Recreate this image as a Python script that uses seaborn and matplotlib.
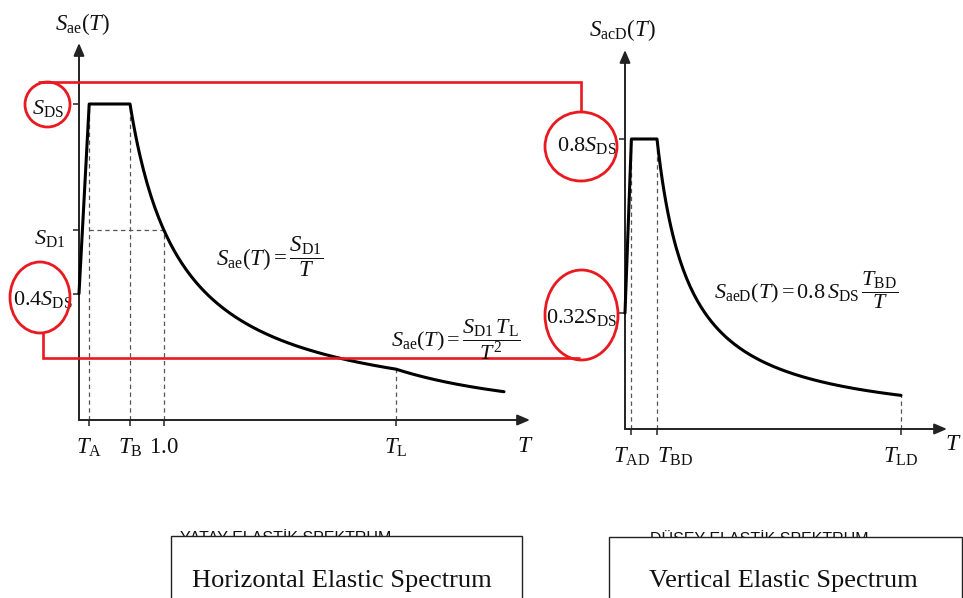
import numpy as np
import pandas as pd
import matplotlib
matplotlib.use("Agg")
import matplotlib.pyplot as plt
from matplotlib.patches import Ellipse, Rectangle
import seaborn as sns

sns.set_theme(style="white")
plt.rcParams["font.family"] = ["Liberation Serif", "DejaVu Serif"]
plt.rcParams["mathtext.fontset"] = "custom"
plt.rcParams["mathtext.rm"] = "Liberation Serif"
plt.rcParams["mathtext.it"] = "Liberation Serif:italic"
plt.rcParams["mathtext.bf"] = "Liberation Serif:bold"

# ---- horizontal elastic spectrum (S_DS normalised to 1) ----
S_DS = 1.0
S_D1 = 0.6
T_A, T_B, T_ONE, T_L, T_H_END = 0.12, 0.6, 1.0, 3.73, 5.0
h_xticks = [T_A, T_B, T_ONE, T_L]
h_xticklabels = [r"$T_{\mathrm{A}}$", r"$T_{\mathrm{B}}$", r"$1.0$", r"$T_{\mathrm{L}}$"]
h_levels = [S_DS, S_D1, 0.4 * S_DS]
h_level_labels = [r"$S_{\mathrm{DS}}$", r"$S_{\mathrm{D1}}$", r"$0.4S_{\mathrm{DS}}$"]

# ---- vertical elastic spectrum ----
T_AD, T_BD, T_LD = 0.04, 0.2, 1.725
v_xticks = [T_AD, T_BD, T_LD]
v_xticklabels = [r"$T_{\mathrm{AD}}$", r"$T_{\mathrm{BD}}$", r"$T_{\mathrm{LD}}$"]
v_levels = [0.8 * S_DS, 0.32 * S_DS]
v_level_labels = [r"$0.8S_{\mathrm{DS}}$", r"$0.32S_{\mathrm{DS}}$"]


def horizontal_sa(T):
    T = np.asarray(T, dtype=float)
    with np.errstate(divide="ignore", invalid="ignore"):
        return np.where(T < T_A, (0.4 + 0.6 * T / T_A) * S_DS,
               np.where(T <= T_B, S_DS,
               np.where(T <= T_L, S_D1 / T, S_D1 * T_L / T ** 2)))


def vertical_sa(T):
    T = np.asarray(T, dtype=float)
    with np.errstate(divide="ignore", invalid="ignore"):
        return np.where(T < T_AD, (0.32 + 0.48 * T / T_AD) * S_DS,
               np.where(T <= T_BD, 0.8 * S_DS, 0.8 * S_DS * T_BD / T))


t_h = np.concatenate([[0.0, T_A], np.linspace(T_B, T_L, 140), np.linspace(T_L, T_H_END, 40)[1:]])
t_v = np.concatenate([[0.0, T_AD], np.linspace(T_BD, T_LD, 140)])
df_h = pd.DataFrame({"T": t_h, "Sa": horizontal_sa(t_h)})
df_v = pd.DataFrame({"T": t_v, "Sa": vertical_sa(t_v)})

W, H = 963, 598
fig = plt.figure(figsize=(W / 100, H / 100), dpi=100)
fig.patch.set_facecolor("white")

AX_COL = "#222222"
DASH_COL = "#555555"
RED = "#e8191f"


def px_axes(x0, y_axis, x1, y1):
    """Axes whose data origin sits at pixel (x0, y_axis)."""
    return fig.add_axes([x0 / W, (H - y_axis) / H, (x1 - x0) / W, (y_axis - y1) / H])


ax_h = px_axes(79, 420, 530, 43)
ax_h.set_xlim(0, (530 - 79) / 85.0)
ax_h.set_ylim(0, (420 - 43) / 316.0)

ax_v = px_axes(625, 429, 947, 50)
ax_v.set_xlim(0, (947 - 625) / 160.0)
ax_v.set_ylim(0, (429 - 50) / 362.5)

for ax in (ax_h, ax_v):
    ax.patch.set_alpha(0)
    for s in ax.spines.values():
        s.set_visible(False)
    for xy in [(1, 0), (0, 1)]:
        ax.annotate("", xy=xy, xytext=(0, 0), xycoords="axes fraction",
                    arrowprops=dict(arrowstyle="-|>,head_length=0.75,head_width=0.32",
                                    mutation_scale=10, lw=1.4, color=AX_COL,
                                    shrinkA=0, shrinkB=0),
                    annotation_clip=False)
    ax.tick_params(axis="both", direction="out", length=4.3, width=1.1, color=AX_COL,
                   bottom=True, left=True, labelsize=16.5, pad=8, labelcolor="#111111")

# spectrum curves
sns.lineplot(data=df_h, x="T", y="Sa", ax=ax_h, color="black", linewidth=2.2,
             estimator=None, sort=False, clip_on=False, zorder=3)
sns.lineplot(data=df_v, x="T", y="Sa", ax=ax_v, color="black", linewidth=2.2,
             estimator=None, sort=False, clip_on=False, zorder=3)
for ax in (ax_h, ax_v):
    ax.set_xlabel("")
    ax.set_ylabel("")

# dashed guide lines
dash = dict(colors=DASH_COL, linestyles=(0, (3.5, 2.8)), linewidth=0.9, zorder=2)
ax_h.vlines(h_xticks, 0, horizontal_sa(h_xticks), **dash)
ax_h.hlines(S_D1, T_A, T_ONE, **dash)
ax_v.vlines(v_xticks, 0, vertical_sa(v_xticks), **dash)

# period ticks
ax_h.set_xticks(h_xticks)
ax_h.set_xticklabels(h_xticklabels)
ax_v.set_xticks(v_xticks)
ax_v.set_xticklabels(v_xticklabels)
ax_v.get_xticklabels()[0].set_horizontalalignment("center")
ax_v.get_xticklabels()[1].set_horizontalalignment("left")

# ordinate ticks, labels centred in the marking circles
ax_h.set_yticks(h_levels)
ax_h.set_yticklabels([])
ax_v.set_yticks(v_levels)
ax_v.set_yticklabels([])
h_label_offsets = [(-31.5, -4.5), (-29.5, -8.0), (-36.0, -6.0)]
v_label_offsets = [(-38.5, -6.0), (-43.5, -5.0)]
for ax, levels, labels, offs in [(ax_h, h_levels, h_level_labels, h_label_offsets),
                                 (ax_v, v_levels, v_level_labels, v_label_offsets)]:
    for lev, lab, (dx, dy) in zip(levels, labels, offs):
        ax.annotate(lab, xy=(0, lev), xycoords=("axes fraction", "data"),
                    xytext=(dx * 0.72, dy * 0.72), textcoords="offset points",
                    ha="center", va="center", fontsize=16, color="#111111",
                    annotation_clip=False)

# overlay in pixel coordinates for titles, formulas and red markings
ov = fig.add_axes([0, 0, 1, 1], zorder=10)
ov.set_xlim(0, W)
ov.set_ylim(H, 0)
ov.axis("off")
ov.patch.set_alpha(0)

txt = dict(color="#111111", ha="center", va="center")
ov.text(83, 24, r"$S_{\mathrm{ae}}(T)$", fontsize=16.5, **txt)
ov.text(622, 30, r"$S_{\mathrm{acD}}(T)$", fontsize=16.5, **txt)
ov.text(525, 447, r"$T$", fontsize=17, **txt)
ov.text(962, 444, r"$T$", fontsize=17, color="#111111", ha="right", va="center")

ov.text(270, 257, r"$S_{\mathrm{ae}}(T)=\dfrac{S_{\mathrm{D1}}}{T}$", fontsize=16.5, **txt)
ov.text(456, 340, r"$S_{\mathrm{ae}}(T)=\dfrac{S_{\mathrm{D1}}\,T_{\mathrm{L}}}{T^{2}}$", fontsize=16, **txt)
ov.text(806, 290, r"$S_{\mathrm{aeD}}(T)=0.8\,S_{\mathrm{DS}}\,\dfrac{T_{\mathrm{BD}}}{T}$", fontsize=16, **txt)

# red markings linking the horizontal and vertical spectrum ordinates
red_line = dict(color=RED, lw=1.9, solid_joinstyle="miter", solid_capstyle="butt")
ov.plot([38, 581, 581], [82, 82, 112], **red_line)
ov.plot([43, 43, 580], [333, 358, 358], **red_line)
for (cx, cy, rx, ry) in [(47.5, 104.5, 22.5, 22.5), (40, 297.5, 30, 35.5),
                         (581, 146.5, 36, 34.5), (581.5, 315, 36.5, 45)]:
    ov.add_patch(Ellipse((cx, cy), 2 * rx, 2 * ry, fill=False, ec=RED, lw=2.0))

# captions (Turkish titles partly hidden behind the English caption boxes)
ov.text(180, 543, "YATAY ELASTİK SPEKTRUM", fontsize=11.5, family="Liberation Sans",
        color="#111111", ha="left", va="baseline", zorder=1)
ov.text(650, 544, "DÜŞEY ELASTİK SPEKTRUM", fontsize=11.5, family="Liberation Sans",
        color="#111111", ha="left", va="baseline", zorder=1)
ov.add_patch(Rectangle((171, 536), 351, 100, fc="white", ec="#222222", lw=1.0, zorder=2))
ov.add_patch(Rectangle((609, 537), 353, 100, fc="white", ec="#222222", lw=1.0, zorder=2))
ov.text(342, 587, "Horizontal Elastic Spectrum", fontsize=19, color="#111111",
        ha="center", va="baseline", zorder=3)
ov.text(783, 587, "Vertical Elastic Spectrum", fontsize=19, color="#111111",
        ha="center", va="baseline", zorder=3)

fig.savefig("out.png", dpi=100, facecolor="white")
